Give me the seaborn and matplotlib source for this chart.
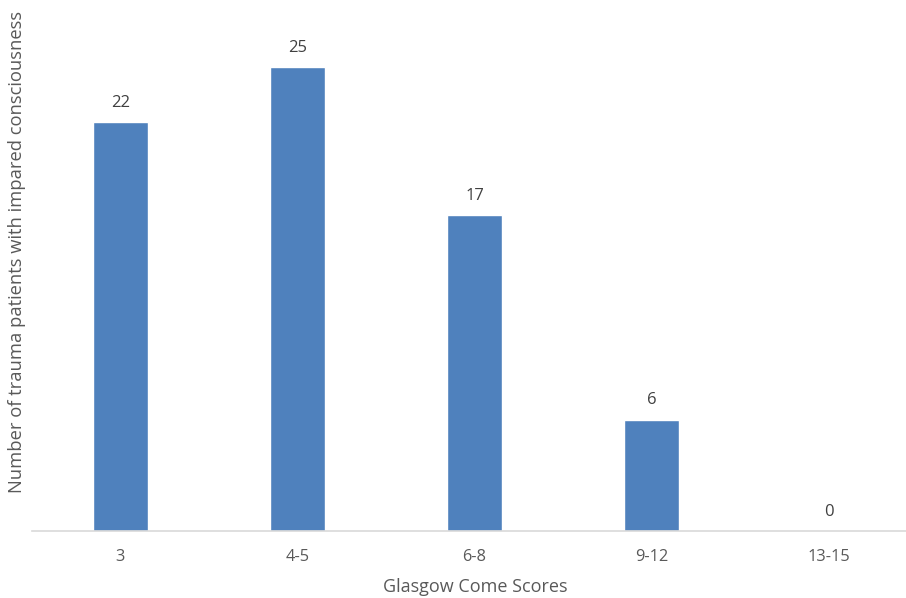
import matplotlib
matplotlib.use("Agg")
import matplotlib.pyplot as plt
import seaborn as sns
import pandas as pd

categories = ["3", "4-5", "6-8", "9-12", "13-15"]
patients = [22, 25, 17, 6, 0]

sns.set_theme(style="white")
plt.rcParams["font.family"] = ["Open Sans", "DejaVu Sans"]

df = pd.DataFrame({"score": categories, "count": patients})

W, H = 906, 598
fig = plt.figure(figsize=(W / 100, H / 100), dpi=100)
ax = fig.add_axes([32 / W, (H - 531) / H, 885 / W, 520 / H])

sns.barplot(data=df, x="score", y="count", color="#4F81BD", saturation=1,
            width=0.31, ax=ax)

for i, v in enumerate(patients):
    ax.annotate(str(v), xy=(i, v), xytext=(0, 8), textcoords="offset points",
                ha="center", va="bottom", fontsize=12, color="#404040")

ax.set_ylim(0, 28)
ax.set_yticks([])
ax.set_xlabel("")
ax.set_ylabel("")
for side in ["top", "right", "left"]:
    ax.spines[side].set_visible(False)
ax.spines["bottom"].set_color("#D9D9D9")
ax.spines["bottom"].set_linewidth(1.2)
ax.tick_params(axis="x", length=0, pad=13, labelsize=11.8, labelcolor="#595959")

fig.text(475 / W, 1 - 587 / H, "Glasgow Come Scores", ha="center", va="center",
         fontsize=13, color="#595959")
fig.text(17 / W, 1 - 252 / H, "Number of trauma patients with impared consciousness",
         ha="center", va="center", rotation=90, fontsize=13.2, color="#595959")

fig.savefig("out.png", dpi=100, facecolor="white")
